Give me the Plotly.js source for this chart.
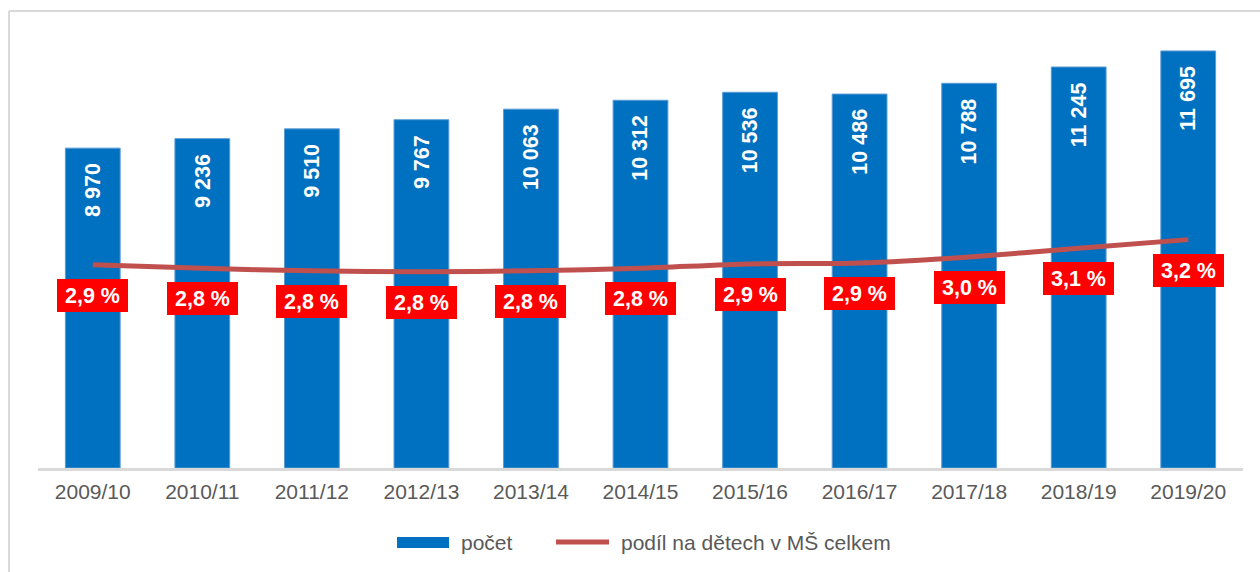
<!DOCTYPE html>
<html>
<head>
<meta charset="utf-8">
<script src="https://cdn.plot.ly/plotly-3.0.1.min.js"></script>
<style>
  html, body { margin: 0; padding: 0; background: #fff; }
  #chart { width: 1260px; height: 572px; }
</style>
</head>
<body>
<div id="chart"></div>
<script>
// ---- data ----
const categories = ['2009/10', '2010/11', '2011/12', '2012/13', '2013/14', '2014/15', '2015/16', '2016/17', '2017/18', '2018/19', '2019/20'];
const counts = [8970, 9236, 9510, 9767, 10063, 10312, 10536, 10486, 10788, 11245, 11695];
const shares = [2.87, 2.83, 2.80, 2.79, 2.80, 2.83, 2.88, 2.89, 2.96, 3.06, 3.16];
const seriesNames = ['počet', 'podíl na dětech v MŠ celkem'];

// ---- layout helpers (pixel -> paper) ----
const W = 1260, H = 572;
const M = { l: 38, r: 17, t: 20, b: 104 };
const PW = W - M.l - M.r, PH = H - M.t - M.b;
const px = x => (x - M.l) / PW;
const py = y => (H - M.b - y) / PH;

const FONT = 'Liberation Sans, Arial, Helvetica, sans-serif';
const GRAY = '#595959';

const fmtCount = v => String(v).replace(/\B(?=(\d{3})+(?!\d))/g, ' ');
const fmtShare = v => v.toFixed(1).replace('.', ',') + ' %';

const bars = {
  type: 'bar',
  name: seriesNames[0],
  x: categories,
  y: counts,
  marker: { color: '#0070C0', line: { color: '#5B9BD5', width: 1 } },
  hoverinfo: 'x+y',
  showlegend: false
};

const line = {
  type: 'scatter',
  mode: 'lines',
  name: seriesNames[1],
  x: categories,
  y: shares,
  yaxis: 'y2',
  line: { color: '#C0504D', width: 5, shape: 'spline', smoothing: 0.8 },
  showlegend: false
};

const annotations = [];
categories.forEach((c, i) => {
  annotations.push({
    x: c, y: counts[i], xref: 'x', yref: 'y',
    text: fmtCount(counts[i]),
    textangle: -90,
    yanchor: 'top', xanchor: 'center',
    yshift: -15,
    showarrow: false,
    borderpad: 0, borderwidth: 0,
    font: { family: FONT, size: 21.5, color: '#FFFFFF', weight: 'bold' }
  });
  annotations.push({
    x: c, y: shares[i], xref: 'x', yref: 'y2',
    text: fmtShare(shares[i]),
    yanchor: 'middle', xanchor: 'center',
    yshift: -30.5,
    showarrow: false,
    bgcolor: '#FF0000',
    borderpad: 5, borderwidth: 0,
    width: 61, height: 23,
    font: { family: FONT, size: 21.5, color: '#FFFFFF', weight: 'bold' }
  });
});

// custom legend text
annotations.push({
  xref: 'paper', yref: 'paper', x: px(459), y: py(542),
  xanchor: 'left', yanchor: 'middle', showarrow: false,
  text: seriesNames[0], font: { family: FONT, size: 21, color: GRAY }
});
annotations.push({
  xref: 'paper', yref: 'paper', x: px(619), y: py(542),
  xanchor: 'left', yanchor: 'middle', showarrow: false,
  text: seriesNames[1], font: { family: FONT, size: 21, color: GRAY }
});

const shapes = [
  // outer frame (left + top)
  { type: 'line', xref: 'paper', yref: 'paper', x0: px(9), y0: py(11), x1: px(1265), y1: py(11), line: { color: '#D9D9D9', width: 2 } },
  { type: 'line', xref: 'paper', yref: 'paper', x0: px(9), y0: py(11), x1: px(9), y1: py(580), line: { color: '#D9D9D9', width: 2 } },
  // legend symbols
  { type: 'rect', xref: 'paper', yref: 'paper', x0: px(397), x1: px(449), y0: py(537), y1: py(548), fillcolor: '#0070C0', line: { width: 0 } },
  { type: 'line', xref: 'paper', yref: 'paper', x0: px(556), x1: px(609), y0: py(542), y1: py(542), line: { color: '#C0504D', width: 5 } }
];

const layout = {
  width: W, height: H,
  margin: M,
  paper_bgcolor: '#FFFFFF',
  plot_bgcolor: '#FFFFFF',
  font: { family: FONT, color: GRAY },
  bargap: 0.5,
  showlegend: false,
  xaxis: {
    type: 'category',
    showline: true, linecolor: '#D9D9D9', linewidth: 2.5,
    ticks: '', showgrid: false, zeroline: false,
    ticklabelstandoff: 3,
    tickfont: { family: FONT, size: 21, color: GRAY }
  },
  yaxis: { range: [0, 12563], visible: false, showgrid: false, zeroline: false, fixedrange: true },
  yaxis2: { range: [0.526, 5.693], overlaying: 'y', visible: false, showgrid: false, zeroline: false, fixedrange: true },
  annotations: annotations,
  shapes: shapes
};

Plotly.newPlot('chart', [bars, line], layout, { displayModeBar: false, staticPlot: true });
</script>
</body>
</html>
